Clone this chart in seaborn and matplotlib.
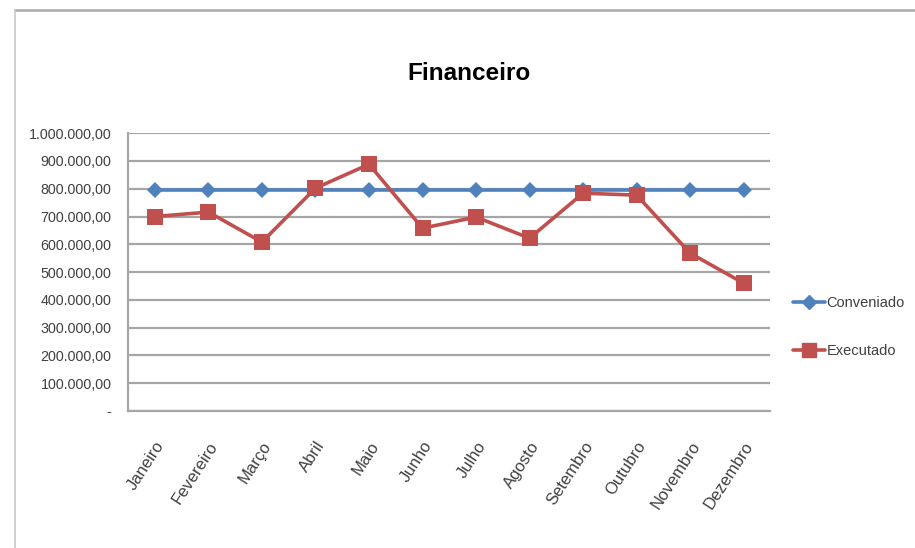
"""
Financeiro: conveniado x executado por mes.
"""
import pandas as pd
import matplotlib.pyplot as plt
import seaborn as sns
from matplotlib.lines import Line2D
from matplotlib.ticker import FuncFormatter

meses = ['Janeiro', 'Fevereiro', 'Março', 'Abril', 'Maio', 'Junho',
         'Julho', 'Agosto', 'Setembro', 'Outubro', 'Novembro', 'Dezembro']
conveniado = [795000] * 12
executado = [700000, 716000, 608000, 802000, 888000, 658000,
             698000, 622000, 784000, 777000, 568000, 460000]
series = ['Conveniado', 'Executado']
cores = ['#4F81BD', '#C0504D']
y_ticks = list(range(0, 1000001, 100000))


def fmt_brl(v, pos=None):
    """Format like Excel pt-BR accounting: 1.000.000,00 and '-' for zero."""
    if v == 0:
        return '-'
    s = f'{v:,.2f}'
    return s.replace(',', 'X').replace('.', ',').replace('X', '.')


def main():
    sns.set_theme(style='white')
    plt.rcParams['font.family'] = ['Liberation Sans', 'DejaVu Sans']

    df = pd.DataFrame({
        'mes': meses * 2,
        'valor': conveniado + executado,
        'serie': [series[0]] * 12 + [series[1]] * 12,
    })

    fig = plt.figure(figsize=(9.15, 5.48), dpi=100)
    ax = fig.add_axes([0.140, 0.250, 0.702, 0.507])

    sns.lineplot(data=df, x='mes', y='valor', hue='serie', style='serie',
                 palette=cores, markers=['D', 's'], dashes=False, sort=False,
                 linewidth=2.6, markersize=9, markeredgewidth=0, ax=ax)
    # diamond a bit smaller than the square
    ax.lines[0].set_markersize(8.5)
    ax.lines[1].set_markersize(12)

    ax.set_xlim(-0.5, 11.5)
    ax.set_ylim(0, 1000000)
    ax.set_yticks(y_ticks)
    ax.yaxis.set_major_formatter(FuncFormatter(fmt_brl))
    ax.grid(axis='y', color='#a6a6a6', linewidth=1.6)
    ax.set_axisbelow(True)
    for side in ['top', 'right']:
        ax.spines[side].set_visible(False)
    ax.spines['left'].set_color('#a6a6a6')
    ax.spines['left'].set_linewidth(1.6)
    ax.spines['bottom'].set_color('#a6a6a6')
    ax.spines['bottom'].set_linewidth(1.6)
    ax.tick_params(axis='y', labelsize=10.3, labelcolor='#404040', length=0, pad=12)
    ax.tick_params(axis='x', labelsize=12, labelcolor='#404040', length=0, pad=20)
    plt.setp(ax.get_xticklabels(), rotation=57, ha='right', rotation_mode='anchor')
    ax.set_xlabel('')
    ax.set_ylabel('')

    fig.text(0.513, 0.865, 'Financeiro', ha='center', va='center',
             fontsize=17.5, fontweight='bold', color='black')

    handles = [Line2D([], [], color=cores[0], marker='D', markersize=7, lw=2.6),
               Line2D([], [], color=cores[1], marker='s', markersize=10, lw=2.6)]
    fig.legend(handles, series, loc='center left', bbox_to_anchor=(0.860, 0.403),
               frameon=False, fontsize=10.5, handlelength=2.2, handletextpad=0.1,
               labelspacing=2.3, labelcolor='#404040', borderaxespad=0)
    if ax.get_legend() is not None:
        ax.get_legend().remove()

    # outer chart border (top and left edges visible in the screenshot)
    fig.add_artist(Line2D([0.016, 1.0], [0.982, 0.982], transform=fig.transFigure,
                          color='#b0b0b0', lw=2))
    fig.add_artist(Line2D([0.016, 0.016], [0.0, 0.982], transform=fig.transFigure,
                          color='#c8c8c8', lw=1.2))

    fig.savefig('out.png', dpi=100, facecolor='white')
    plt.close(fig)


if __name__ == '__main__':
    main()
